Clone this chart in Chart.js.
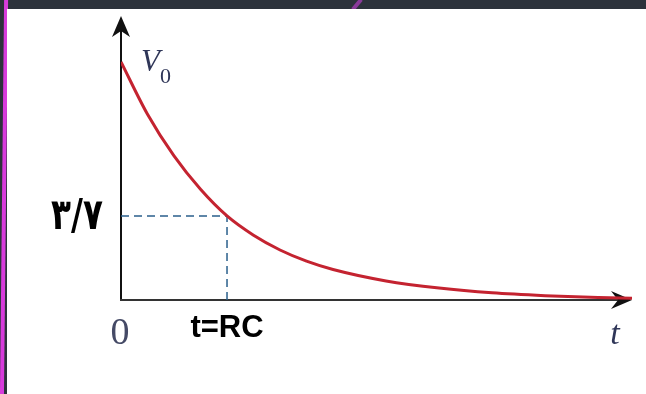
<!DOCTYPE html>
<html>
<head>
<meta charset="utf-8">
<script src="https://cdn.jsdelivr.net/npm/chart.js@4"></script>
<style>
  html, body { margin: 0; padding: 0; }
  body { width: 646px; height: 394px; background: #2c323b; position: relative; overflow: hidden; }
  #panel { position: absolute; left: 7px; top: 9px; width: 639px; height: 385px; background: #fff; }
  #edge { position: absolute; left: 2px; top: -5px; width: 4px; height: 410px; background: #d83cdc; transform: rotate(0.6deg); }
  #slash { position: absolute; left: 355px; top: -2px; width: 4px; height: 13px; background: #8a3a9a; transform: rotate(40deg); }
</style>
</head>
<body>
<div id="edge"></div>
<div id="slash"></div>
<div id="panel"><canvas id="chart" width="639" height="385"></canvas></div>
<script>
// time in units of RC, voltage relative to V0
const times = [0, 0.25, 0.5, 0.75, 1, 1.25, 1.5, 1.75, 2, 2.5, 3, 3.5, 4, 4.5, 4.82];
const volts = [1, 0.78, 0.605, 0.465, 0.353, 0.272, 0.21, 0.163, 0.128, 0.08, 0.05, 0.03, 0.018, 0.01, 0.007];
const tRC = 1;
const vRC = 0.353;
const tMax = 4.82;
const vMax = 1.176;

const curve = times.map((t, i) => ({ x: t, y: volts[i] }));

// axes, arrows and labels
const axesPlugin = {
    id: 'axes',
    beforeDatasetsDraw(chart) {
        const ctx = chart.ctx;
        const x = chart.scales.x, y = chart.scales.y;
        const x0 = x.getPixelForValue(0), y0 = y.getPixelForValue(0);
        const xEnd = x.getPixelForValue(tMax), yTop = y.getPixelForValue(vMax);
        ctx.save();
        ctx.strokeStyle = '#111';
        ctx.lineWidth = 2;
        ctx.beginPath();
        ctx.moveTo(x0, y0 + 1);
        ctx.lineTo(x0, yTop + 10);
        ctx.stroke();
        ctx.strokeStyle = '#333';
        ctx.beginPath();
        ctx.moveTo(x0 - 1, y0);
        ctx.lineTo(xEnd - 10, y0);
        ctx.stroke();
        ctx.fillStyle = '#111';
        // y arrow
        ctx.beginPath();
        ctx.moveTo(x0, yTop - 4);
        ctx.lineTo(x0 + 9, yTop + 17);
        ctx.lineTo(x0, yTop + 11);
        ctx.lineTo(x0 - 9, yTop + 17);
        ctx.closePath();
        ctx.fill();
        // x arrow
        ctx.beginPath();
        ctx.moveTo(xEnd, y0);
        ctx.lineTo(xEnd - 21, y0 - 9);
        ctx.lineTo(xEnd - 14, y0);
        ctx.lineTo(xEnd - 21, y0 + 9);
        ctx.closePath();
        ctx.fill();
        ctx.restore();
    },
    afterDraw(chart) {
        const ctx = chart.ctx;
        const x = chart.scales.x, y = chart.scales.y;
        const x0 = x.getPixelForValue(0);
        ctx.save();
        ctx.textBaseline = 'alphabetic';
        ctx.textAlign = 'left';
        ctx.fillStyle = '#2f3658';
        ctx.font = 'italic 31px "Liberation Serif"';
        ctx.fillText('V', 134, 62);
        ctx.font = '22px "Liberation Serif"';
        ctx.fillText('0', 153, 74);
        ctx.textAlign = 'center';
        ctx.fillStyle = '#454a66';
        ctx.font = '38px "Liberation Serif"';
        ctx.fillText('0', x0 - 1, 335);
        ctx.fillStyle = '#2f3658';
        ctx.font = 'italic 34px "Liberation Serif"';
        ctx.fillText('t', 608, 335);
        ctx.fillStyle = '#000';
        ctx.font = 'bold 31px "Liberation Sans"';
        ctx.fillText('t=RC', x.getPixelForValue(tRC), 328);
        // Persian label, narrowed to the width of the original
        ctx.translate(70, y.getPixelForValue(vRC) + 13);
        ctx.scale(0.76, 1);
        ctx.font = 'bold 43px "DejaVu Sans"';
        ctx.fillText('۳/۷', 0, 0);
        ctx.restore();
    }
};

new Chart(document.getElementById('chart'), {
    type: 'line',
    data: {
        datasets: [
            {
                data: curve,
                borderColor: '#c42330',
                borderWidth: 3,
                pointRadius: 0,
                cubicInterpolationMode: 'monotone'
            },
            {
                data: [{ x: 0, y: vRC }, { x: tRC, y: vRC }, { x: tRC, y: 0 }],
                borderColor: '#2a5f8c',
                borderWidth: 1.5,
                borderDash: [8, 5],
                pointRadius: 0,
                tension: 0
            }
        ]
    },
    options: {
        responsive: false,
        animation: false,
        layout: { padding: { left: 114, right: 14, top: 11, bottom: 94 } },
        plugins: { legend: { display: false }, tooltip: { enabled: false } },
        scales: {
            x: { type: 'linear', min: 0, max: tMax, display: false },
            y: { type: 'linear', min: 0, max: vMax, display: false }
        }
    },
    plugins: [axesPlugin]
});
</script>
</body>
</html>
